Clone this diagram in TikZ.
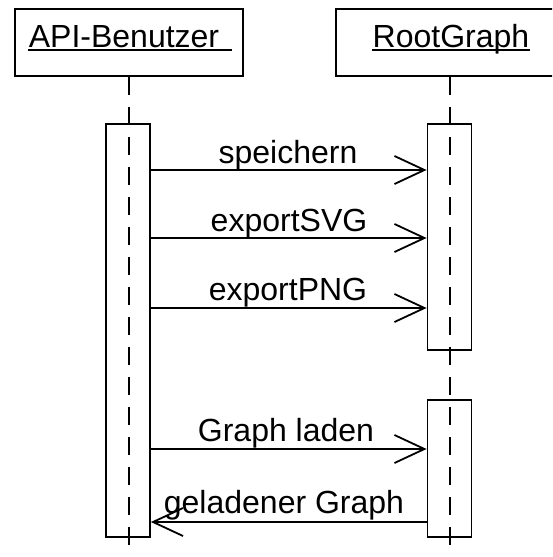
\documentclass[tikz,border=0pt]{standalone}
\usepackage{fontspec}
\setmainfont{Liberation Sans}
\usetikzlibrary{arrows.meta}
\begin{document}
\begin{tikzpicture}[x=1pt,y=-1pt, line width=1.8pt,
  headbox/.style={draw, rectangle, minimum width=228pt, minimum height=67pt, inner sep=0pt},
  actbox/.style={draw, fill=white, rectangle, minimum width=44pt, inner sep=0pt},
  lbl/.style={font=\fontsize{32}{38}\selectfont, anchor=base, inner sep=0pt},
  lifeline/.style={dash pattern=on 18pt off 12pt},
  msg/.style={-{Straight Barb[length=30pt,width=28pt]}}]
\useasboundingbox (0,0) rectangle (552,557);
\clip (0,0) rectangle (552,557);
% heads
\node[headbox] (h1) at (129,42.5) {};
\node[headbox] (h2) at (450,42.5) {};
\node[lbl] (t1) at (124,47) {API-Benutzer};
\node[lbl] (t2) at (451,47) {RootGraph};
\draw ([yshift=-3pt]t1.base west) -- ++(204,0);
\draw ([yshift=-3pt]t2.base west) -- ([yshift=-3pt]t2.base east);
% activation boxes
\node[actbox, minimum height=413pt] (a1) at (128,330.5) {};
\node[actbox, minimum height=226pt] (a2) at (449.5,237) {};
\node[actbox, minimum height=137pt] (a3) at (449.5,468.5) {};
% lifelines
\coordinate (e1) at (129,554);
\coordinate (e2) at (450,554);
\draw[lifeline] (h1.south) -- (e1);
\draw[lifeline] (h2.south) -- (e2);
% messages
\coordinate (m1) at (0,170);
\coordinate (m2) at (0,238);
\coordinate (m3) at (0,308);
\coordinate (m4) at (0,449);
\coordinate (m5) at (0,522);
\draw[msg] (a1.east |- m1) -- (a2.west |- m1);
\draw[msg] (a1.east |- m2) -- (a2.west |- m2);
\draw[msg] (a1.east |- m3) -- (a2.west |- m3);
\draw[msg] (a1.east |- m4) -- (a3.west |- m4);
\draw[msg] (a3.west |- m5) -- (a1.east |- m5);
% labels
\node[lbl] (l1) at (288,163) {speichern};
\node[lbl] (l2) at (289,231) {exportSVG};
\node[lbl] (l3) at (288,300) {exportPNG};
\node[lbl] (l4) at (286,441.5) {Graph laden};
\node[lbl] (l5) at (284,513) {geladener Graph};
\end{tikzpicture}
\end{document}
